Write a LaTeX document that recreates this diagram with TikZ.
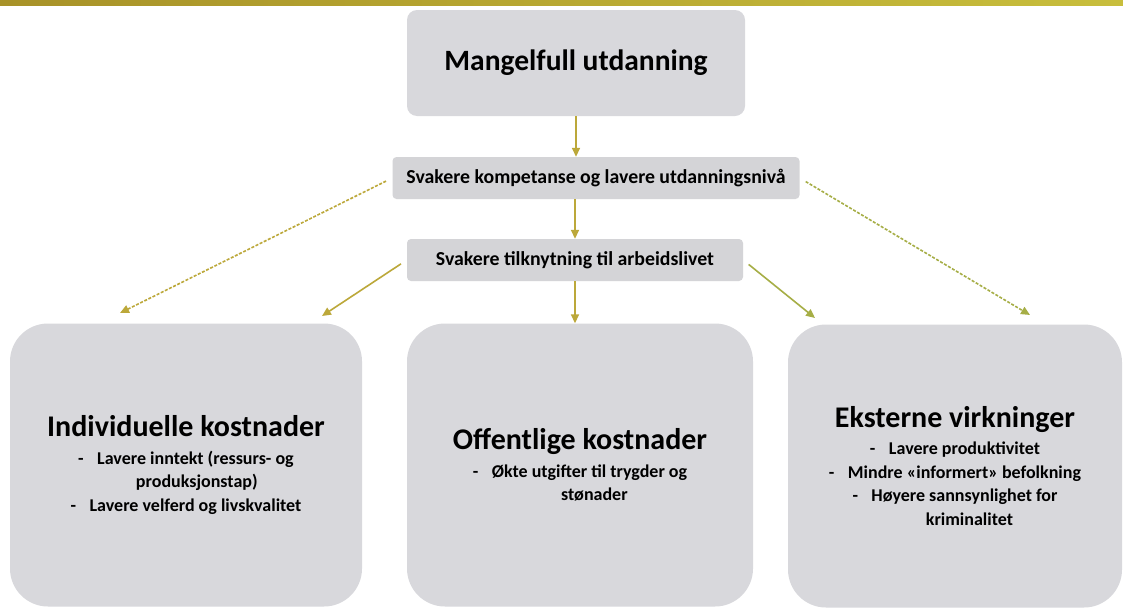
\documentclass[tikz,border=0pt]{standalone}
\usepackage{fontspec}
\setmainfont{Carlito}
\usetikzlibrary{arrows.meta}
\definecolor{boxgray}{RGB}{216,216,220}
\definecolor{bargray}{RGB}{212,212,215}
\definecolor{linegold}{RGB}{168,146,40}
\definecolor{lineyellow}{RGB}{200,190,60}
\definecolor{arrgold}{RGB}{188,168,58}
\definecolor{arrgreen}{RGB}{166,174,70}
\newcommand\headfont{\fontsize{30}{32}\selectfont}
\newcommand\itemfont{\fontsize{18}{23.5}\selectfont}
\newcommand\itm{-\hspace{0.75em}}
\begin{document}
\begin{tikzpicture}[x=1pt,y=-1pt,
    topbox/.style={fill=boxgray,rounded corners=10pt,minimum width=338pt,minimum height=106pt,font=\bfseries\fontsize{29.5}{32}\selectfont},
    bar/.style={fill=bargray,rounded corners=4pt,minimum height=42pt,inner sep=0pt,font=\bfseries\fontsize{19.8}{22}\selectfont},
    bigbox/.style={fill=boxgray,rounded corners=38pt,minimum height=283pt,inner sep=0pt,align=center,font=\bfseries\itemfont},
    arr/.style={line width=1.6pt,-{Triangle[length=9pt,width=8pt]}},
    dsh/.style={arr,dash pattern=on 3pt off 1.6pt}]
  \fill[white] (0,0) rectangle (1123,608);
  \useasboundingbox (0,0) rectangle (1123,608);
  \fill[left color=linegold,right color=lineyellow] (0,0) rectangle (1123,5);

  \node[topbox] (top) at (576,63) {Mangelfull utdanning};
  \node[bar,minimum width=407pt] (komp) at (596,178) {Svakere kompetanse og lavere utdanningsnivå};
  \node[bar,minimum width=336pt] (tilk) at (575,260) {Svakere tilknytning til arbeidslivet};

  \node[bigbox,minimum width=352pt] (ind) at (186,465) {{\headfont Individuelle kostnader}\\[4pt]
    \itm Lavere inntekt (ressurs- og\\ \hspace*{1.2em}produksjonstap)\\ \itm Lavere velferd og livskvalitet};
  \node[bigbox,minimum width=346pt] (off) at (580,465) {{\headfont Offentlige kostnader}\\[4pt]
    \itm Økte utgifter til trygder og\\ \hspace*{1.6em}stønader};
  \node[bigbox,minimum width=334pt] (eks) at (955,466) {{\headfont Eksterne virkninger}\\[4pt]
    \itm Lavere produktivitet\\ \itm Mindre «informert» befolkning\\ \itm Høyere sannsynlighet for\\ \hspace*{1.6em}kriminalitet};

  \coordinate (dl) at (120,313);
  \coordinate (sl) at (322,316);
  \coordinate (sr) at (815,318);
  \coordinate (dr) at (1030,315);

  \draw[arr,draw=arrgold] (top) -- (top |- komp.north);
  \draw[arr,draw=arrgold] (tilk |- komp.south) -- (tilk.north);
  \draw[arr,draw=arrgold] (tilk) -- (tilk |- off.north);
  \foreach \a/\b/\s/\c in {komp.west/dl/dsh/arrgold, komp.east/dr/dsh/arrgreen, tilk.west/sl/arr/arrgold, tilk.east/sr/arr/arrgreen}
    \draw[\s,draw=\c,shorten <=7pt] (\a) -- (\b);
\end{tikzpicture}
\end{document}
